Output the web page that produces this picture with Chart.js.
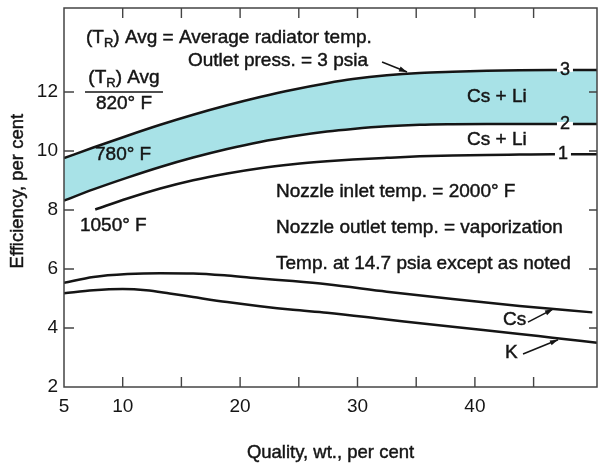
<!DOCTYPE html>
<html><head><meta charset="utf-8">
<script src="https://cdn.jsdelivr.net/npm/chart.js@4/dist/chart.umd.min.js"></script>
<style>html,body{margin:0;padding:0;background:#fff;}#wrap{width:598px;height:468px;}</style>
</head><body><div id="wrap"><canvas id="c" width="598" height="468"></canvas></div>
<script>
// ---- data ----
const xTickLabels = [5, 10, 20, 30, 40];
const yTickLabels = [2, 4, 6, 8, 10, 12];

// curve 3 (upper edge of band) and curve 2 (lower edge of band), Cs + Li
const bandX  = [5, 7.5, 10.4, 13.2, 16, 18.9, 21.7, 24.5, 27.4, 29.6, 32.5, 35.3, 38.1, 41, 43.8, 46.6, 50.4];
const curve3 = [9.76, 10.12, 10.52, 10.89, 11.23, 11.55, 11.83, 12.08, 12.30, 12.44, 12.57, 12.65, 12.69, 12.72, 12.74, 12.75, 12.75];
const curve2 = [8.32, 8.70, 9.10, 9.46, 9.78, 10.07, 10.31, 10.50, 10.66, 10.75, 10.84, 10.89, 10.91, 10.92, 10.92, 10.92, 10.92];

// curve 1, Cs + Li (1050 F)
const curve1X = [7.66, 10.4, 13.2, 16, 18.9, 21.7, 24.5, 27.4, 29.6, 32.5, 35.3, 38.1, 41, 43.8, 46.6, 50.4];
const curve1  = [8.02, 8.39, 8.73, 9.01, 9.24, 9.42, 9.55, 9.65, 9.71, 9.77, 9.82, 9.85, 9.87, 9.88, 9.89, 9.89];

// Cs
const csX = [5, 7.5, 10.4, 13.2, 16, 18.9, 21.7, 24.5, 27.4, 32.5, 38.1, 43.8, 50];
const csY = [5.53, 5.73, 5.83, 5.86, 5.85, 5.78, 5.68, 5.59, 5.48, 5.23, 4.98, 4.75, 4.53];

// K
const kX = [5, 7.5, 10, 12, 14, 16, 18.9, 21.7, 24.5, 27.4, 32.5, 38.1, 43.8, 46.6, 50.4];
const kY = [5.18, 5.28, 5.32, 5.28, 5.17, 5.05, 4.88, 4.74, 4.62, 4.52, 4.29, 4.04, 3.80, 3.67, 3.50];

// ---- chart ----
const FONT = '"Liberation Sans", Arial, sans-serif';
const INK = '#151515';
const BAND = '#a8e2e7';
const pts = (xs, ys) => xs.map((x, i) => ({x: x, y: ys[i]}));

const lineStyle = {
  borderColor: INK, borderWidth: 2.5, pointRadius: 0, pointHoverRadius: 0,
  cubicInterpolationMode: 'monotone', fill: false
};

function arrow(ctx, x1, y1, x2, y2) {
  ctx.save();
  ctx.strokeStyle = INK; ctx.fillStyle = INK; ctx.lineWidth = 1.6;
  ctx.beginPath(); ctx.moveTo(x1, y1); ctx.lineTo(x2, y2); ctx.stroke();
  const a = Math.atan2(y2 - y1, x2 - x1), L = 8, W = 2.6;
  ctx.beginPath();
  ctx.moveTo(x2, y2);
  ctx.lineTo(x2 - L * Math.cos(a) + W * Math.sin(a), y2 - L * Math.sin(a) - W * Math.cos(a));
  ctx.lineTo(x2 - L * Math.cos(a) - W * Math.sin(a), y2 - L * Math.sin(a) + W * Math.cos(a));
  ctx.closePath(); ctx.fill();
  ctx.restore();
}

const decor = {
  id: 'decor',
  afterDatasetsDraw(chart) {
    const ctx = chart.ctx, xs = chart.scales.x, ys = chart.scales.y, a = chart.chartArea;
    const X = v => xs.getPixelForValue(v), Y = v => ys.getPixelForValue(v);
    ctx.save();
    // frame
    ctx.strokeStyle = '#444'; ctx.lineWidth = 1.5;
    ctx.strokeRect(a.left, a.top, a.right - a.left, a.bottom - a.top);
    // ticks (inward)
    ctx.lineWidth = 1.4;
    ctx.beginPath();
    for (let v = 10; v <= 45; v += 5) {
      ctx.moveTo(X(v), a.bottom); ctx.lineTo(X(v), a.bottom - 10);
      ctx.moveTo(X(v), a.top); ctx.lineTo(X(v), a.top + 10);
    }
    for (let v = 4; v <= 12; v += 2) {
      ctx.moveTo(a.left, Y(v)); ctx.lineTo(a.left + 10, Y(v));
      ctx.moveTo(a.right, Y(v)); ctx.lineTo(a.right - 8, Y(v));
    }
    ctx.stroke();

    ctx.fillStyle = INK; ctx.strokeStyle = INK; ctx.lineWidth = 0.45; ctx.textBaseline = 'middle';
    const T = (s, x, y, align, size) => {
      ctx.font = (size || 19) + 'px ' + FONT; ctx.textAlign = align || 'left';
      ctx.fillText(s, x, y); ctx.strokeText(s, x, y);
    };
    const TR = (rest, x, y, align) => {
      ctx.font = '19px ' + FONT;
      const w1 = ctx.measureText('(T').width;
      ctx.font = '13px ' + FONT;
      const w2 = ctx.measureText('R').width;
      ctx.font = '19px ' + FONT;
      const w3 = ctx.measureText(rest).width;
      let sx = align === 'center' ? x - (w1 + w2 + w3) / 2 : x;
      T('(T', sx, y, 'left');
      T('R', sx + w1, y + 5, 'left', 13);
      T(rest, sx + w1 + w2, y, 'left');
    };

    TR(') Avg = Average radiator temp.', X(6.87), Y(13.83), 'left');
    T('Outlet press. = 3 psia', X(15.56), Y(13.05));
    arrow(ctx, X(32.09), Y(13.02), X(34.22), Y(12.68));

    TR(') Avg', X(10.11), Y(12.47), 'center');
    ctx.save(); ctx.lineWidth = 1.4;
    ctx.beginPath(); ctx.moveTo(X(6.79), Y(12)); ctx.lineTo(X(13.43), Y(12)); ctx.stroke();
    ctx.restore();
    T('820° F', X(10.11), Y(11.59), 'center');
    T('780° F', X(7.64), Y(9.86));
    T('1050° F', X(6.36), Y(7.46));

    T('Cs + Li', X(39.33), Y(11.83));
    T('Cs + Li', X(39.33), Y(10.37));

    T('Nozzle inlet temp. = 2000° F', X(23.06), Y(8.61));
    T('Nozzle outlet temp. = vaporization', X(23.06), Y(7.39));
    T('Temp. at 14.7 psia except as noted', X(23.06), Y(6.17));

    T('Cs', X(42.39), Y(4.27));
    arrow(ctx, X(44.52), Y(4.20), X(46.65), Y(4.64));
    T('K', X(42.56), Y(3.15));
    arrow(ctx, X(44.10), Y(3.12), X(47.08), Y(3.60));

    const num = (s, xv, yv) => {
      ctx.fillStyle = '#ffffff';
      ctx.fillRect(X(xv) - 8, Y(yv) - 2, 16, 4);
      ctx.fillStyle = INK;
      T(s, X(xv), Y(yv), 'center', 18);
    };
    num('3', 47.67, 12.75);
    num('2', 47.67, 10.92);
    num('1', 47.5, 9.89);

    ctx.save();
    ctx.translate(18, Y(8.64));
    ctx.rotate(-Math.PI / 2);
    T('Efficiency, per cent', 0, 0, 'center', 18.5);
    ctx.restore();
    T('Quality, wt., per cent', (a.left + a.right) / 2, 453, 'center', 18.5);
    ctx.restore();
  }
};

new Chart(document.getElementById('c'), {
  type: 'line',
  data: {
    datasets: [
      Object.assign({}, lineStyle, {label: '3', data: pts(bandX, curve3), fill: '+1', backgroundColor: BAND}),
      Object.assign({}, lineStyle, {label: '2', data: pts(bandX, curve2)}),
      Object.assign({}, lineStyle, {label: '1', data: pts(curve1X, curve1)}),
      Object.assign({}, lineStyle, {label: 'Cs', data: pts(csX, csY)}),
      Object.assign({}, lineStyle, {label: 'K', data: pts(kX, kY)})
    ]
  },
  options: {
    responsive: false, animation: false, devicePixelRatio: 1,
    layout: {padding: {top: 8, right: 1, left: 0, bottom: 0}},
    plugins: {legend: {display: false}, tooltip: {enabled: false}, filler: {drawTime: 'beforeDatasetsDraw'}},
    scales: {
      x: {
        type: 'linear', min: 5, max: 50.4,
        grid: {display: false, drawTicks: false}, border: {display: false},
        ticks: {stepSize: 5, autoSkip: false, maxRotation: 0, padding: 8, color: INK,
          font: {family: FONT, size: 19},
          callback: v => xTickLabels.includes(v) ? String(v) : ''},
        afterFit: s => { s.height = 81; s.paddingLeft = 0; s.paddingRight = 0; }
      },
      y: {
        type: 'linear', min: 2, max: 14.85,
        grid: {display: false, drawTicks: false}, border: {display: false},
        ticks: {stepSize: 2, autoSkip: false, padding: 6, color: INK,
          font: {family: FONT, size: 19},
          callback: v => yTickLabels.includes(v) ? String(v) : ''},
        afterFit: s => { s.width = 64; s.paddingTop = 0; s.paddingBottom = 0; }
      }
    }
  },
  plugins: [decor]
});
</script></body></html>
